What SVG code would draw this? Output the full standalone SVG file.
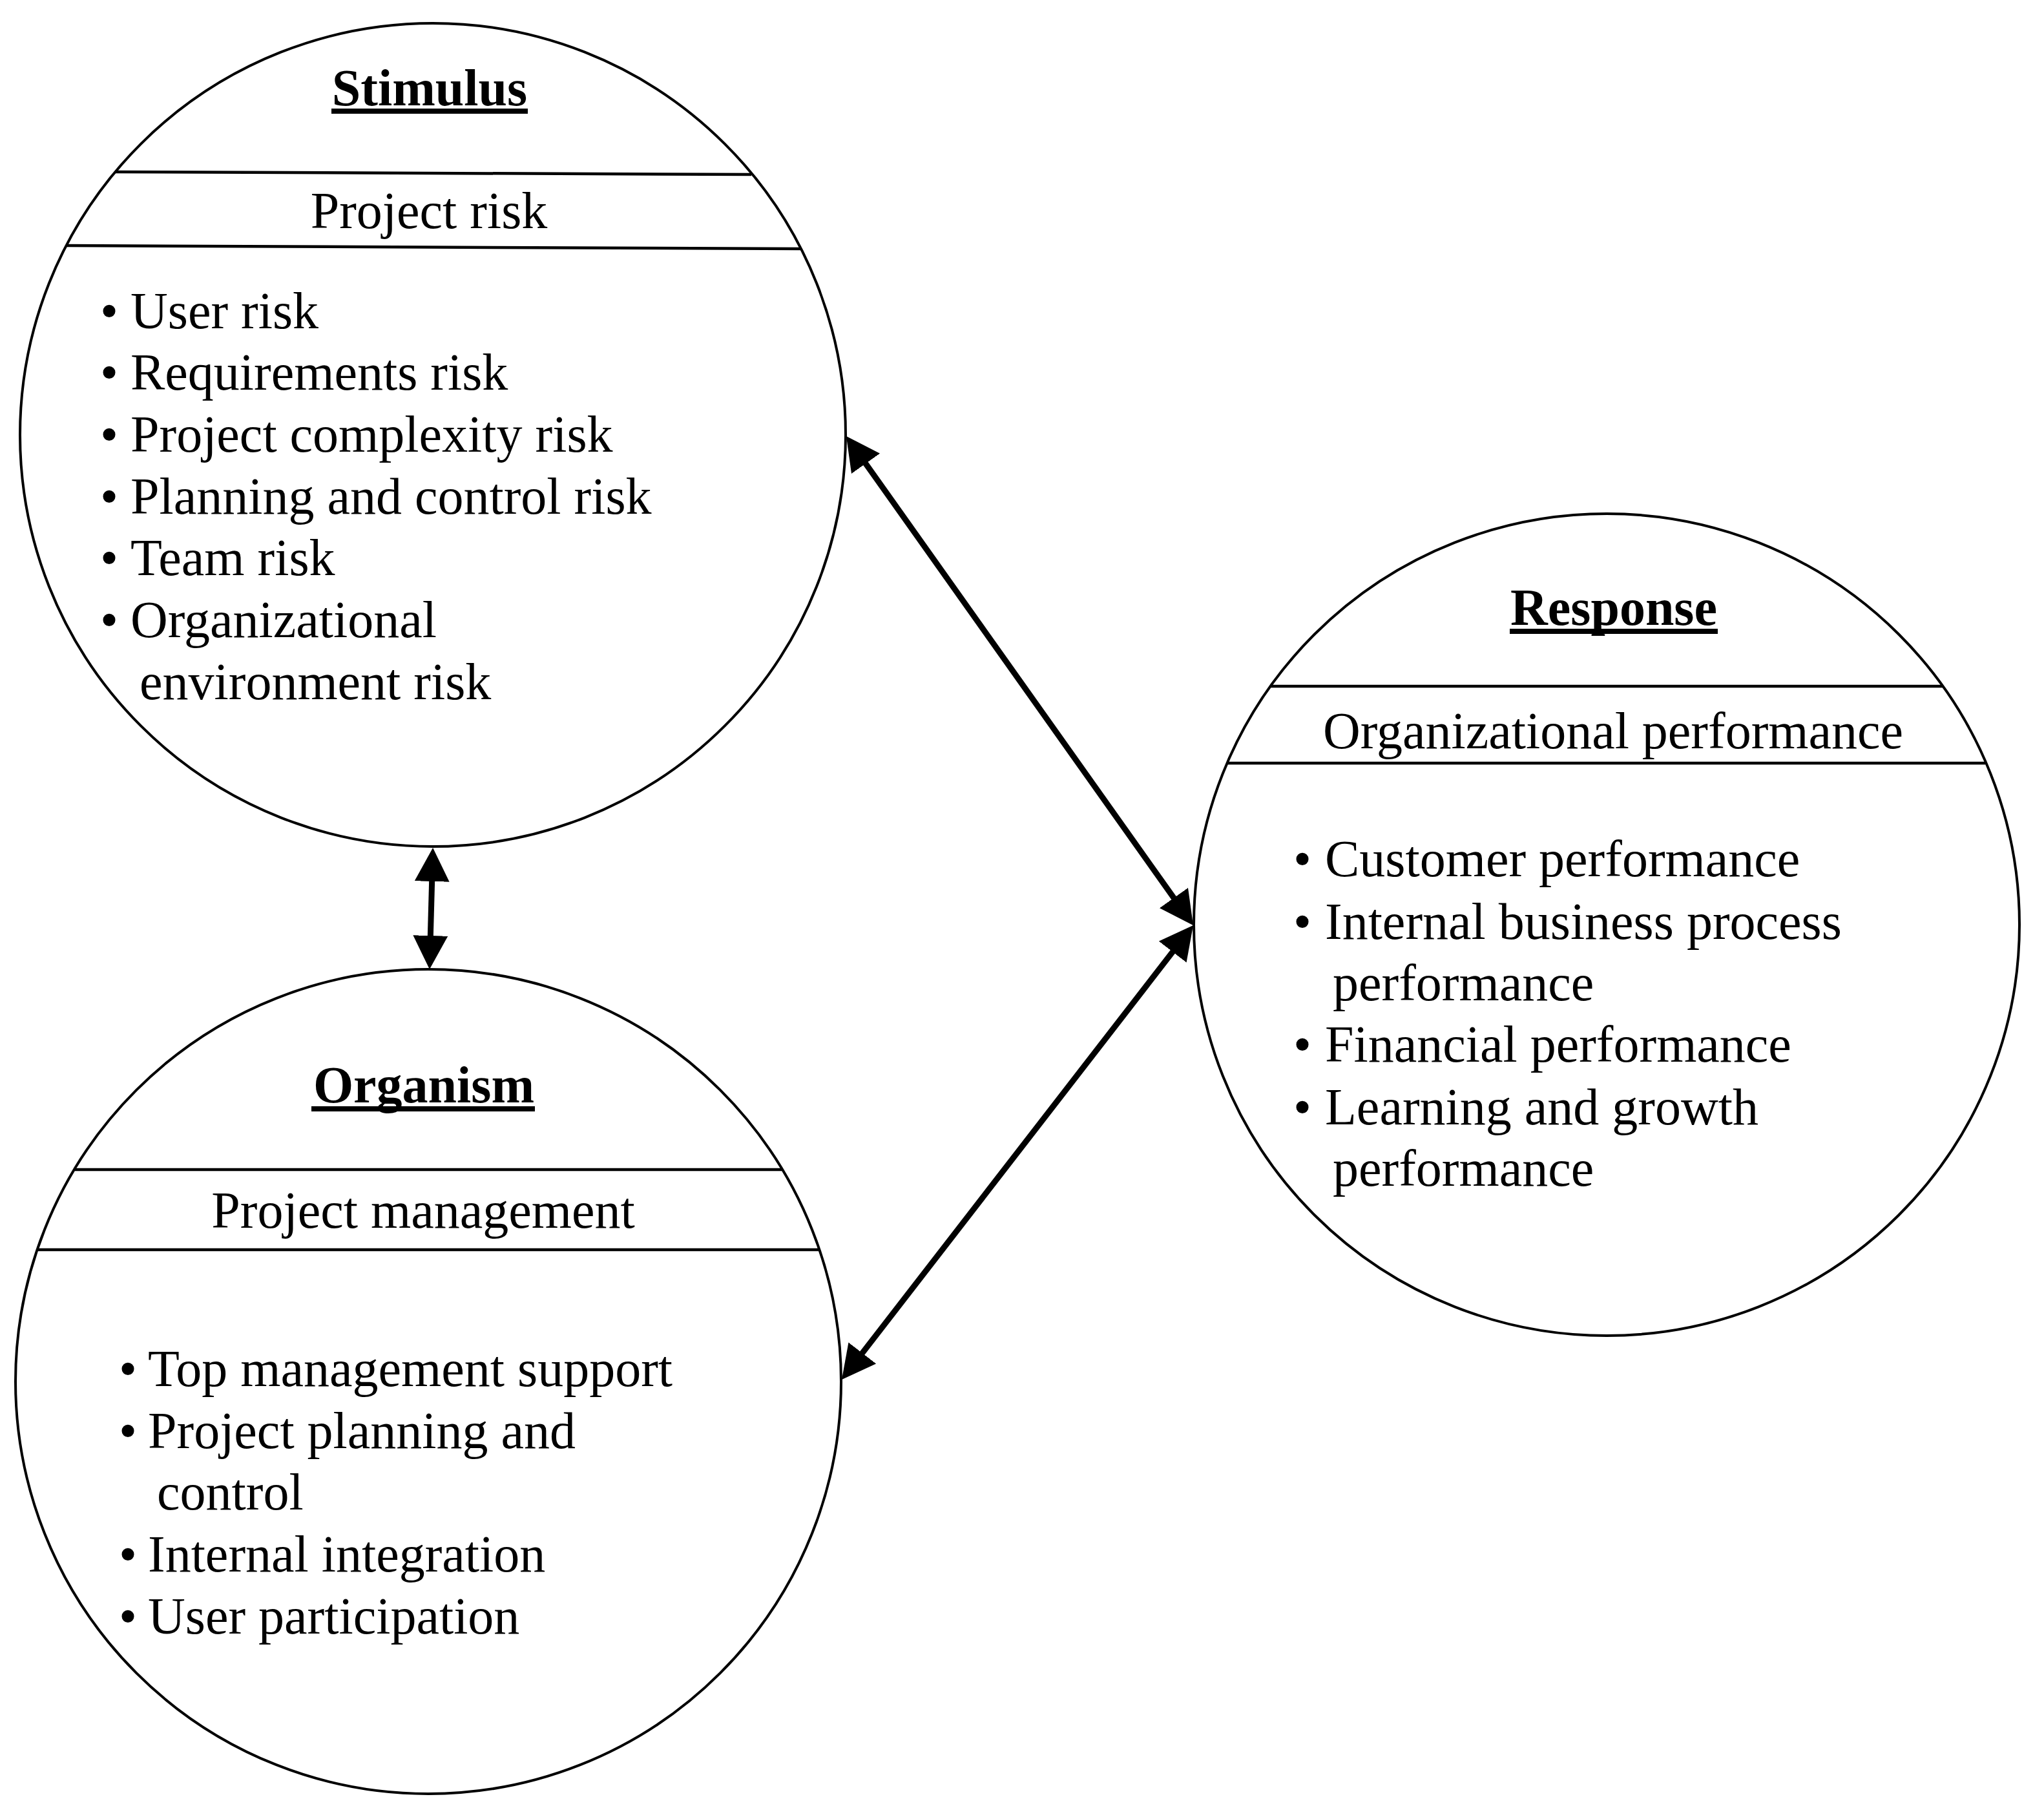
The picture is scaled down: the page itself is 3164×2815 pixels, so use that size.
<svg xmlns="http://www.w3.org/2000/svg" width="3164" height="2815" viewBox="0 0 3164 2815">
  <style>
    .shape { fill: none; stroke: #000; stroke-width: 4; }
    .divider { stroke: #000; stroke-width: 4.5; }
    .uline { stroke: #000; stroke-width: 8; }
    .title { font-family: "Liberation Serif", "Times New Roman", serif; font-size: 80px; font-weight: bold; text-anchor: middle; fill: #000; }
    .sub { font-family: "Liberation Serif", "Times New Roman", serif; font-size: 80px; text-anchor: middle; fill: #000; }
    .item { font-family: "Liberation Serif", "Times New Roman", serif; font-size: 80px; fill: #000; }
    .conn { stroke: #000; stroke-width: 9; fill: none; marker-start: url(#head); marker-end: url(#head); }
  </style>
  <defs>
    <marker id="head" markerUnits="userSpaceOnUse" markerWidth="54" markerHeight="56" refX="2" refY="27" orient="auto-start-reverse" viewBox="0 0 54 56">
      <path d="M0,0 L52,27 L0,54 Z" fill="#000"/>
    </marker>
  </defs>
  <rect width="3164" height="2815" fill="#fff"/>

  <g id="stimulus">
    <ellipse class="shape" cx="670" cy="673" rx="639" ry="637"/>
    <line class="divider" x1="179" y1="266" x2="1163" y2="270"/>
    <line class="divider" x1="103" y1="380" x2="1239" y2="385"/>
    <text class="title" x="665" y="163">Stimulus</text>
    <line class="uline" x1="513" y1="172" x2="817" y2="172"/>
    <text class="sub" x="664" y="353">Project risk</text>
    <text class="item" x="155" y="508">•</text><text class="item" x="202" y="508">User risk</text>
    <text class="item" x="155" y="603">•</text><text class="item" x="202" y="603">Requirements risk</text>
    <text class="item" x="155" y="699">•</text><text class="item" x="202" y="699">Project complexity risk</text>
    <text class="item" x="155" y="795">•</text><text class="item" x="202" y="795">Planning and control risk</text>
    <text class="item" x="155" y="890">•</text><text class="item" x="202" y="890">Team risk</text>
    <text class="item" x="155" y="986">•</text><text class="item" x="202" y="986">Organizational</text>
    <text class="item" x="216" y="1082">environment risk</text>
  </g>

  <g id="organism">
    <ellipse class="shape" cx="663" cy="2138" rx="639" ry="638"/>
    <line class="divider" x1="116" y1="1810" x2="1210" y2="1810"/>
    <line class="divider" x1="58" y1="1934" x2="1268" y2="1934"/>
    <text class="title" x="656" y="1706">Organism</text>
    <line class="uline" x1="482" y1="1716" x2="828" y2="1716"/>
    <text class="sub" x="655" y="1900">Project management</text>
    <text class="item" x="184" y="2145">•</text><text class="item" x="229" y="2145">Top management support</text>
    <text class="item" x="184" y="2241">•</text><text class="item" x="229" y="2241">Project planning and</text>
    <text class="item" x="243" y="2336">control</text>
    <text class="item" x="184" y="2432">•</text><text class="item" x="229" y="2432">Internal integration</text>
    <text class="item" x="184" y="2528">•</text><text class="item" x="229" y="2528">User participation</text>
  </g>

  <g id="response">
    <ellipse class="shape" cx="2487" cy="1431" rx="639" ry="636"/>
    <line class="divider" x1="1966" y1="1062" x2="3007" y2="1062"/>
    <line class="divider" x1="1900" y1="1181" x2="3073" y2="1181"/>
    <text class="title" x="2498" y="967">Response</text>
    <line class="uline" x1="2337" y1="977" x2="2659" y2="977"/>
    <text class="sub" x="2497" y="1158">Organizational performance</text>
    <text class="item" x="2002" y="1356">•</text><text class="item" x="2051" y="1356">Customer performance</text>
    <text class="item" x="2002" y="1453">•</text><text class="item" x="2051" y="1453">Internal business process</text>
    <text class="item" x="2063" y="1548">performance</text>
    <text class="item" x="2002" y="1643">•</text><text class="item" x="2051" y="1643">Financial performance</text>
    <text class="item" x="2002" y="1740">•</text><text class="item" x="2051" y="1740">Learning and growth</text>
    <text class="item" x="2063" y="1835">performance</text>
  </g>

  <g id="connectors">
    <line class="conn" x1="668.7" y1="1362" x2="666.3" y2="1450"/>
    <line class="conn" x1="1338.9" y1="715.8" x2="1818.1" y2="1391.2"/>
    <line class="conn" x1="1333.6" y1="2095.5" x2="1816.4" y2="1471.5"/>
  </g>
</svg>
